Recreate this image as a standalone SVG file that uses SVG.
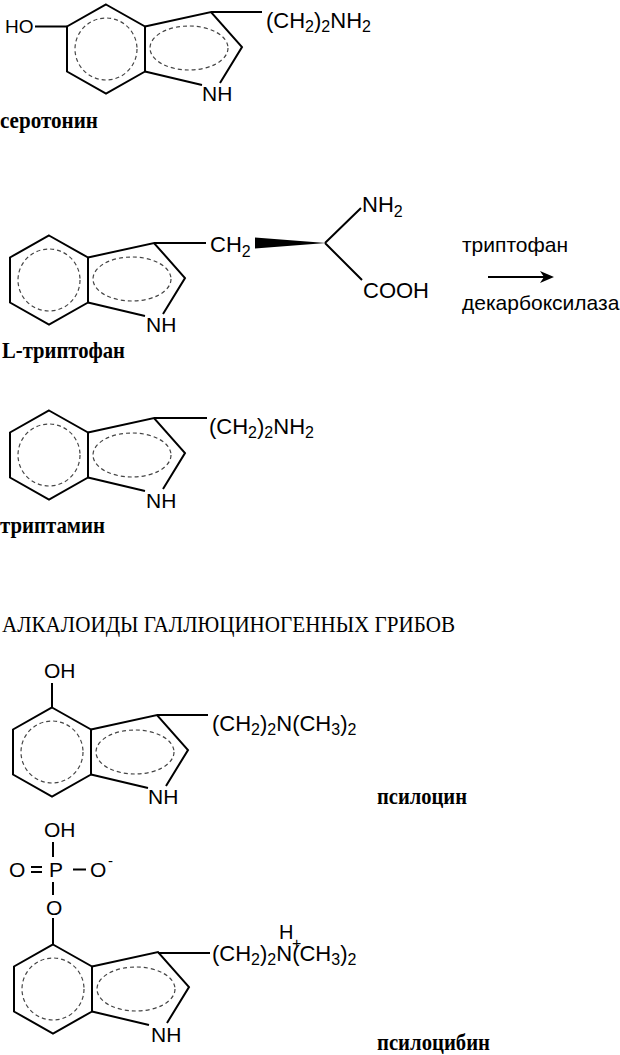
<svg xmlns="http://www.w3.org/2000/svg" width="620" height="1055" viewBox="0 0 620 1055">
<style>
.bond{fill:none;stroke:#000;stroke-width:2;stroke-linejoin:miter;stroke-linecap:butt}
.dash{fill:none;stroke:#444;stroke-width:1.2;stroke-dasharray:4 3}
.sans{font-family:"Liberation Sans",Arial,sans-serif;font-size:22px;fill:#000}
.nh{font-family:"Liberation Sans",Arial,sans-serif;font-size:21px;fill:#000}
.sub{font-size:16px}
.lbl{font-family:"Liberation Serif","Times New Roman",serif;font-weight:bold;font-size:23px;fill:#000}
.title{font-family:"Liberation Serif","Times New Roman",serif;font-size:24px;fill:#000}
</style>
<rect width="620" height="1055" fill="#fff"/>

<g id="serotonin">
  <g transform="translate(106,49)">
    <polygon class="bond" points="0,-44.5 39,-22.5 39,22.5 0,44.5 -39,22.5 -39,-22.5"/>
    <path class="bond" d="M39,-22.5 L105,-37 L136,-2 L114,34 M39,22.5 L96,36"/>
    <circle class="dash" cx="0" cy="0" r="31"/>
    <ellipse class="dash" cx="83" cy="-1" rx="39" ry="22"/>
    <text class="nh" x="96" y="52">NH</text>
  </g>
  <path class="bond" d="M67,26.5 H35 M211,12 H262"/>
  <text class="sans" x="5" y="33" style="font-size:19px">HO</text>
  <text class="sans" x="266" y="28">(CH<tspan class="sub" dy="4">2</tspan><tspan dy="-4">)</tspan><tspan class="sub" dy="4">2</tspan><tspan dy="-4">NH</tspan><tspan class="sub" dy="4">2</tspan></text>
  <text class="lbl" x="0" y="128" textLength="98" lengthAdjust="spacingAndGlyphs">серотонин</text>
</g>

<g id="tryptophan">
  <g transform="translate(49,280)">
    <polygon class="bond" points="0,-44.5 39,-22.5 39,22.5 0,44.5 -39,22.5 -39,-22.5"/>
    <path class="bond" d="M39,-22.5 L105,-37 L136,-2 L114,34 M39,22.5 L96,36"/>
    <circle class="dash" cx="0" cy="0" r="31"/>
    <ellipse class="dash" cx="83" cy="-1" rx="39" ry="22"/>
    <text class="nh" x="97" y="52">NH</text>
  </g>
  <path class="bond" d="M154,243 H206 M325,243 L361,208 M325,243 L362,280"/>
  <polygon points="255,237.5 255,248.5 326,243" fill="#000"/>
  <text class="sans" x="210" y="252">CH<tspan class="sub" dy="5">2</tspan></text>
  <text class="sans" x="362" y="212">NH<tspan class="sub" dy="5">2</tspan></text>
  <text class="sans" x="363" y="298">COOH</text>
  <text class="lbl" x="2" y="358" textLength="123" lengthAdjust="spacingAndGlyphs">L-триптофан</text>
</g>

<g id="reaction">
  <text class="sans" x="462" y="252" style="font-size:21px">триптофан</text>
  <line class="bond" x1="488" y1="277" x2="545" y2="277"/>
  <polygon points="554,277 540,271 544,277 540,283" fill="#000"/>
  <text class="sans" x="462" y="310" style="font-size:21px">декарбоксилаза</text>
</g>

<g id="tryptamine">
  <g transform="translate(49,455)">
    <polygon class="bond" points="0,-44.5 39,-22.5 39,22.5 0,44.5 -39,22.5 -39,-22.5"/>
    <path class="bond" d="M39,-22.5 L105,-37 L136,-2 L114,34 M39,22.5 L96,36"/>
    <circle class="dash" cx="0" cy="0" r="31"/>
    <ellipse class="dash" cx="83" cy="0" rx="39" ry="22"/>
    <text class="nh" x="97" y="53">NH</text>
  </g>
  <path class="bond" d="M154,418 H207"/>
  <text class="sans" x="209" y="434">(CH<tspan class="sub" dy="4">2</tspan><tspan dy="-4">)</tspan><tspan class="sub" dy="4">2</tspan><tspan dy="-4">NH</tspan><tspan class="sub" dy="4">2</tspan></text>
  <text class="lbl" x="0" y="533" textLength="105" lengthAdjust="spacingAndGlyphs">триптамин</text>
</g>

<text class="title" x="2" y="632" textLength="453" lengthAdjust="spacingAndGlyphs">АЛКАЛОИДЫ ГАЛЛЮЦИНОГЕННЫХ ГРИБОВ</text>

<g id="psilocin">
  <g transform="translate(52,752)">
    <polygon class="bond" points="0,-44.5 39,-22.5 39,22.5 0,44.5 -39,22.5 -39,-22.5"/>
    <path class="bond" d="M39,-22.5 L105,-37 L136,-2 L114,34 M39,22.5 L96,36"/>
    <circle class="dash" cx="0" cy="0" r="31"/>
    <ellipse class="dash" cx="83" cy="0" rx="39" ry="22"/>
    <text class="nh" x="96" y="52">NH</text>
  </g>
  <path class="bond" d="M52,683 V707.5 M157,715 H208"/>
  <text class="sans" x="44" y="678" style="font-size:21px">OH</text>
  <text class="sans" x="212" y="731">(CH<tspan class="sub" dy="4">2</tspan><tspan dy="-4">)</tspan><tspan class="sub" dy="4">2</tspan><tspan dy="-4">N(CH</tspan><tspan class="sub" dy="4">3</tspan><tspan dy="-4">)</tspan><tspan class="sub" dy="4">2</tspan></text>
  <text class="lbl" x="377" y="804" textLength="90" lengthAdjust="spacingAndGlyphs">псилоцин</text>
</g>

<g id="psilocybin">
  <g transform="translate(53,989)">
    <polygon class="bond" points="0,-44.5 39,-22.5 39,22.5 0,44.5 -39,22.5 -39,-22.5"/>
    <path class="bond" d="M39,-22.5 L105,-37 L136,-2 L114,34 M39,22.5 L96,36"/>
    <circle class="dash" cx="0" cy="0" r="31"/>
    <ellipse class="dash" cx="83" cy="0" rx="39" ry="22"/>
    <text class="nh" x="98" y="53">NH</text>
  </g>
  <path class="bond" d="M53,842 V857 M53,882 V895 M53,918 V944.5 M158,953 H210"/>
  <path class="bond" d="M31,867 H42 M31,872 H42 M73,869.5 H86" style="stroke-width:1.8"/>
  <text class="sans" x="44" y="837" style="font-size:21px">OH</text>
  <text class="sans" x="9" y="877" style="font-size:21px">O</text>
  <text class="sans" x="49" y="877" style="font-size:21px">P</text>
  <text class="sans" x="90" y="877" style="font-size:21px">O</text>
  <text class="sans" x="108" y="866" style="font-size:15px">-</text>
  <text class="sans" x="46" y="915" style="font-size:21px">O</text>
  <text class="sans" x="212" y="961">(CH<tspan class="sub" dy="4">2</tspan><tspan dy="-4">)</tspan><tspan class="sub" dy="4">2</tspan><tspan dy="-4">N(CH</tspan><tspan class="sub" dy="4">3</tspan><tspan dy="-4">)</tspan><tspan class="sub" dy="4">2</tspan></text>
  <text class="sans" x="279" y="939" style="font-size:20px">H</text>
  <text class="sans" x="292" y="949" style="font-size:16px">+</text>
  <text class="lbl" x="377" y="1050" textLength="113" lengthAdjust="spacingAndGlyphs">псилоцибин</text>
</g>
</svg>
